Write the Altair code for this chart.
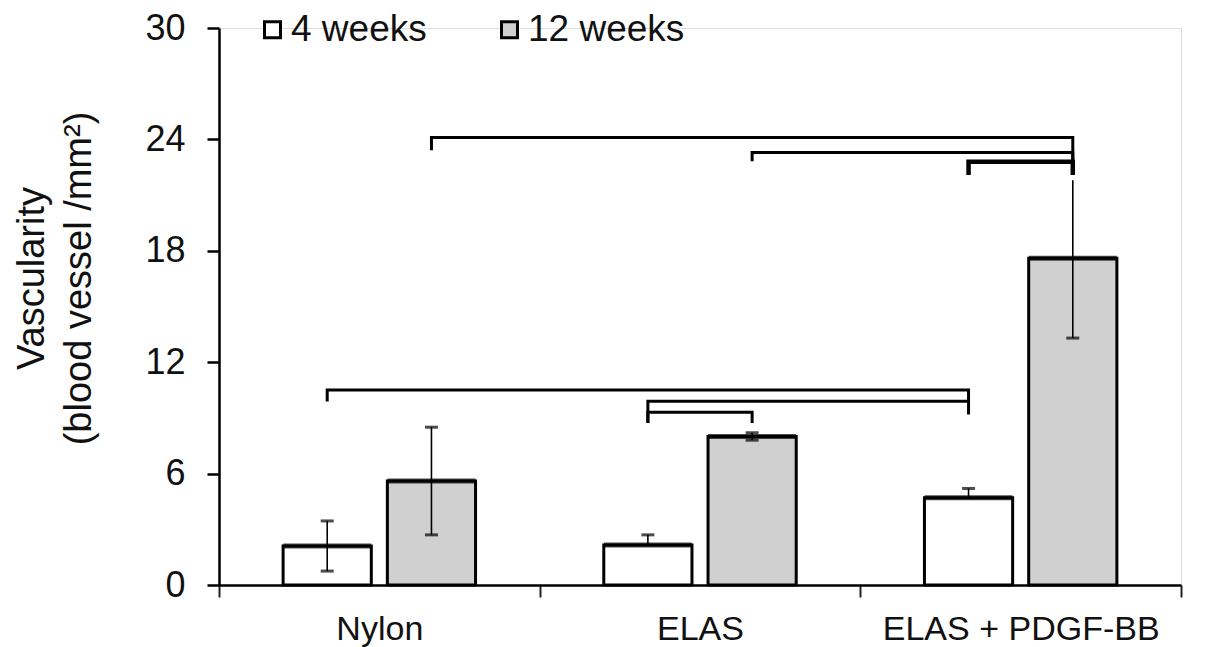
import altair as alt
import pandas as pd

categories = ["Nylon", "ELAS", "ELAS + PDGF-BB"]
weeks = ["4 weeks", "12 weeks"]
mean_4w = [2.1, 2.15, 4.7]
mean_12w = [5.6, 8.0, 17.6]
err_4w_plus = [1.35, 0.55, 0.5]
err_4w_minus = [1.35, 0.0, 0.0]
err_12w_plus = [2.9, 0.2, 4.2]
err_12w_minus = [2.9, 0.2, 4.3]
upper_cap_4w = [True, True, True]
upper_cap_12w = [True, True, False]

# significance brackets: from bar, to bar, top height, leg ends
br_from_cat = ["Nylon", "ELAS", "ELAS + PDGF-BB", "Nylon", "ELAS", "ELAS"]
br_from_week = ["12 weeks", "12 weeks", "4 weeks", "4 weeks", "4 weeks", "4 weeks"]
br_to_cat = ["ELAS + PDGF-BB", "ELAS + PDGF-BB", "ELAS + PDGF-BB", "ELAS + PDGF-BB", "ELAS + PDGF-BB", "ELAS"]
br_to_week = ["12 weeks", "12 weeks", "12 weeks", "4 weeks", "4 weeks", "12 weeks"]
br_top = [24.1, 23.3, 22.8, 10.5, 9.9, 9.3]
br_left_leg = [23.5, 22.9, 22.2, 9.96, 8.8, 8.8]
br_right_leg = [22.2, 22.2, 22.2, 9.96, 9.26, 8.8]
br_width = [3, 3, 4.5, 3, 3, 3]

rows = []
for i, c in enumerate(categories):
    rows.append(dict(cat=c, week=weeks[0], v=mean_4w[i],
                     lo=mean_4w[i] - err_4w_minus[i], hi=mean_4w[i] + err_4w_plus[i],
                     has_lo=err_4w_minus[i] > 0, has_hi=upper_cap_4w[i]))
    rows.append(dict(cat=c, week=weeks[1], v=mean_12w[i],
                     lo=mean_12w[i] - err_12w_minus[i], hi=mean_12w[i] + err_12w_plus[i],
                     has_lo=err_12w_minus[i] > 0, has_hi=upper_cap_12w[i]))
bars = pd.DataFrame(rows)

caps = []
for r in rows:
    if r["has_hi"]:
        caps.append(dict(cat=r["cat"], week=r["week"], y=r["hi"]))
    if r["has_lo"]:
        caps.append(dict(cat=r["cat"], week=r["week"], y=r["lo"]))
caps = pd.DataFrame(caps)

br_rows = []
for i in range(len(br_top)):
    pts = [(br_from_cat[i], br_from_week[i], br_left_leg[i]),
           (br_from_cat[i], br_from_week[i], br_top[i]),
           (br_to_cat[i], br_to_week[i], br_top[i]),
           (br_to_cat[i], br_to_week[i], br_right_leg[i])]
    for k, (c, w, y) in enumerate(pts):
        br_rows.append(dict(bid=i, k=k, cat=c, week=w, y=y, sw=br_width[i]))
brackets = pd.DataFrame(br_rows)

FONT = "Liberation Sans"

x_enc = alt.X("cat:N", sort=categories,
              scale=alt.Scale(paddingInner=0, paddingOuter=0),
              axis=alt.Axis(title=None, labelAngle=0, labelFontSize=34, labelFont=FONT,
                            labelColor="#111", labelPadding=15, labelLimit=0, tickBand="extent",
                            tickSize=12, tickWidth=2, tickColor="#222",
                            domainColor="black", domainWidth=2.5, grid=False))
xo_enc = alt.XOffset("week:N", sort=weeks,
                     scale=alt.Scale(paddingInner=0.154, paddingOuter=0.615))
y_scale = alt.Scale(domain=[0, 30], nice=False, zero=True)

bar_layer = alt.Chart(bars).mark_bar(stroke="black", strokeWidth=3).encode(
    x=x_enc,
    xOffset=xo_enc,
    y=alt.Y("v:Q", scale=y_scale,
            axis=alt.Axis(values=[0, 6, 12, 18, 24, 30], title=["Vascularity", "(blood vessel /mm²)"],
                          titleFontSize=38, titleFont=FONT, titleFontWeight="normal",
                          titleColor="#111", titleLineHeight=47, titleX=-168, titleY=250,
                          labelFontSize=36, labelFont=FONT, labelColor="#111",
                          labelPadding=22, tickSize=12, tickWidth=2.5, tickColor="black",
                          domainColor="black", domainWidth=2.5, grid=False)),
    fill=alt.Fill("week:N", sort=weeks,
                  scale=alt.Scale(domain=weeks, range=["white", "#d0d0d0"]),
                  legend=alt.Legend(title=None, orient="none", direction="horizontal",
                                    legendX=35, legendY=-17, symbolType="square",
                                    symbolSize=256, symbolStrokeColor="black",
                                    symbolStrokeWidth=3, labelFontSize=37, labelFont=FONT,
                                    labelColor="#111", labelOffset=0, labelLimit=0,
                                    columnPadding=64)),
)

top_edge = alt.Chart(bars).mark_tick(color="black", thickness=5, size=88).encode(
    x=alt.X("cat:N", sort=categories),
    xOffset=alt.XOffset("week:N", sort=weeks),
    y=alt.Y("v:Q"),
)

err_layer = alt.Chart(bars).mark_rule(color="black", strokeWidth=1.6).encode(
    x=alt.X("cat:N", sort=categories),
    xOffset=alt.XOffset("week:N", sort=weeks),
    y=alt.Y("lo:Q"),
    y2="hi:Q",
)

cap_layer = alt.Chart(caps).mark_tick(color="black", thickness=3, size=13).encode(
    x=alt.X("cat:N", sort=categories),
    xOffset=alt.XOffset("week:N", sort=weeks),
    y=alt.Y("y:Q"),
)

br_layer = alt.Chart(brackets).mark_line(color="black", strokeCap="square").encode(
    x=alt.X("cat:N", sort=categories),
    xOffset=alt.XOffset("week:N", sort=weeks),
    y=alt.Y("y:Q"),
    detail="bid:N",
    order="k:Q",
    strokeWidth=alt.StrokeWidth("sw:Q", scale=None, legend=None),
)

chart = alt.layer(bar_layer, top_edge, err_layer, cap_layer, br_layer).properties(
    width=962, height=557,
    autosize=alt.AutoSizeParams(type="none"),
    padding={"left": 211, "top": 20, "right": 20, "bottom": 62},
).configure_view(strokeWidth=0).configure(background="white")

chart.save("out.html", embed_options={"renderer": "svg", "actions": False})
